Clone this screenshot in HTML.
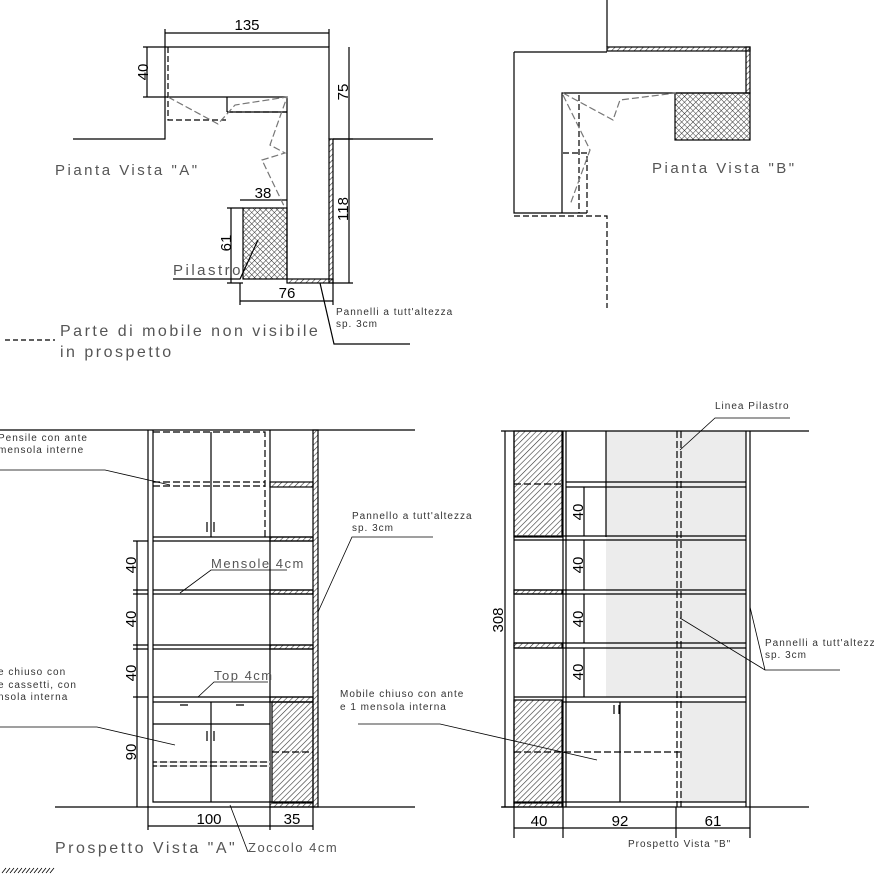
<!DOCTYPE html>
<html><head><meta charset="utf-8"><style>
body{margin:0;background:#fff}
svg{display:block}
text{font-family:"Liberation Sans",sans-serif;fill:#444}
.b{font-size:15px;fill:#000}
.s{font-size:10px;letter-spacing:1px;fill:#333}
.t{font-size:15px;letter-spacing:2.5px;fill:#555}
</style></head><body>
<svg width="874" height="874" viewBox="0 0 874 874" xmlns="http://www.w3.org/2000/svg">
<defs>
<pattern id="h" width="4" height="4" patternUnits="userSpaceOnUse" patternTransform="rotate(45)"><line x1="0" y1="0" x2="0" y2="4" stroke="#333" stroke-width="1.2"/></pattern>
<pattern id="x" width="4" height="4" patternUnits="userSpaceOnUse" patternTransform="rotate(45)"><path d="M0 0V4M0 0H4" stroke="#333" stroke-width="1"/></pattern>
</defs>
<g fill="none" stroke="#000" stroke-width="1.2">
<!-- TOP LEFT -->
<path d="M165 33H329M165 29V47M329 29V47"/>
<path d="M73 139H165V47H329V139M333 139H433"/>
<path d="M165 97H287V279"/>
<rect x="329" y="139" width="4" height="144" fill="url(#h)"/>
<rect x="287" y="279" width="46" height="4" fill="url(#h)"/>
<rect x="243" y="208" width="44" height="71" fill="url(#x)"/>
<path d="M147 47V97M143 47H165M143 97H165M349 47V283M333 139H353M333 283H353"/>
<path d="M240 200H287M231 208V283M227 208H243M227 283H243M240 301H333M240 283V305M333 283V305"/>
<path d="M227 112V97M227 112H287" />
<path d="M168 47V120H226M227 112H287" stroke-dasharray="6 3"/>
<path d="M168 97L218 124L235 105L287 97L270 145L285 153L262 160L285 208" stroke="#777" stroke-dasharray="7 3"/>
<path d="M173 279H240L258 240M320 283L334 344H410"/>
<path d="M5 340H55" stroke-dasharray="5 3"/>
<!-- TOP RIGHT -->
<path d="M607 0V47M514 52H607M514 52V213H587M750 93H562V213"/>
<rect x="607" y="47" width="143" height="4" fill="url(#h)"/>
<rect x="746" y="47" width="4" height="46" fill="url(#h)"/>
<rect x="675" y="93" width="75" height="47" fill="url(#x)"/>
<path d="M514 216H607V308M579 95V213M563 153H587V213" stroke-dasharray="6 3"/>
<path d="M563 93L613 120L620 100L676 93M563 95L590 150L570 205" stroke="#777" stroke-dasharray="7 3"/>
<!-- BOTTOM LEFT -->
<path d="M0 430H415M55 807H415"/>
<path d="M148 430V807M153 430V802H313M270 430V802"/>
<path d="M153 537H313M153 541H313M153 590H313M153 594H313M153 645H313M153 649H313M153 697H313M153 702H313"/>
<rect x="313" y="430" width="5" height="377" fill="url(#h)"/>
<rect x="270" y="482" width="43" height="5" fill="url(#h)"/>
<rect x="270" y="537" width="43" height="4" fill="url(#h)"/>
<rect x="270" y="590" width="43" height="4" fill="url(#h)"/>
<rect x="270" y="645" width="43" height="4" fill="url(#h)"/>
<rect x="270" y="697" width="43" height="5" fill="url(#h)"/>
<rect x="272" y="702" width="41" height="101" fill="url(#h)"/>
<rect x="270" y="802" width="43" height="5" fill="url(#h)"/>
<path d="M153 432H265V537M153 482H265M153 486H265M272 752H313" stroke-dasharray="7 3"/>
<path d="M211 432V537M211 702V802M153 724H270M153 762H270M153 766H270" />
<path d="M153 762H270M153 766H270" stroke="#fff" stroke-width="1.3" stroke-dasharray="3 7" stroke-dashoffset="-4"/>
<path d="M207 522V532M214 522V532M207 731V741M214 731V741M180 705H188M236 705H244"/>
<path d="M137 541V807M133 541H148M133 590H148M133 594H148M133 645H148M133 649H148M133 697H148"/>
<path d="M148 826H313M148 807V830M270 807V830M313 807V830"/>
<path d="M230 805L248 852M287 570H211L180 593M268 682H214L198 697M0 470H105L170 485M0 727H97L175 745M433 537H352L318 612M358 724H440L597 760" stroke-width="0.8"/>
<path d="M2 873L6 868M6 873L10 868M10 873L14 868M14 873L18 868M18 873L22 868M22 873L26 868M26 873L30 868M30 873L34 868M34 873L38 868M38 873L42 868M42 873L46 868M46 873L50 868M50 873L54 868" stroke-width="0.8"/>
<!-- BOTTOM RIGHT -->
<rect x="606" y="431" width="140" height="266" fill="#ececec" stroke="none"/>
<rect x="680" y="702" width="66" height="100" fill="#ececec" stroke="none"/>
<path d="M514 431H809M502 807H809M514 431V807M563 431V807M566 431V807M606 431V537M746 431V807M750 431V807"/>
<path d="M566 482H746M566 487H746M514 536H746M514 540H746M514 590H746M514 594H746M514 643H746M514 648H746M514 697H746M563 702H746M563 802H746"/>
<rect x="514" y="431" width="48" height="106" fill="url(#h)"/>
<rect x="514" y="590" width="48" height="4" fill="url(#h)"/>
<rect x="514" y="643" width="48" height="5" fill="url(#h)"/>
<rect x="514" y="700" width="48" height="103" fill="url(#h)"/>
<rect x="514" y="802" width="48" height="5" fill="url(#h)"/>
<path d="M677 431V807M681 431V807M514 484H562M514 752H680" stroke-dasharray="7 3"/>
<path d="M620 702V802M614 705V714M619 705V714"/>
<path d="M584 487V536M584 540V590M584 594V643M584 648V697"/>
<path d="M505 431V807M501 431H514M501 807H514"/>
<path d="M514 828H750M514 807V838M563 807V838M676 807V838M750 807V838"/>
<path d="M790 418H715L680 450M840 670H765L680 618M765 670L750 607" stroke-width="0.8"/>
</g>
<g>
<text class="b" x="247" y="30" text-anchor="middle">135</text>
<text class="b" transform="translate(148,72) rotate(-90)" text-anchor="middle">40</text>
<text class="b" transform="translate(348,92) rotate(-90)" text-anchor="middle">75</text>
<text class="b" transform="translate(348,209) rotate(-90)" text-anchor="middle">118</text>
<text class="b" x="263" y="198" text-anchor="middle">38</text>
<text class="b" transform="translate(231,243) rotate(-90)" text-anchor="middle">61</text>
<text class="b" x="287" y="298" text-anchor="middle">76</text>
<text class="t" x="55" y="175">Pianta Vista "A"</text>
<text class="t" x="173" y="275">Pilastro</text>
<text class="s" x="336" y="315">Pannelli a tutt'altezza</text>
<text class="s" x="336" y="327">sp. 3cm</text>
<text class="t" x="60" y="336" style="font-size:16px">Parte di mobile non visibile</text>
<text class="t" x="60" y="357" style="font-size:16px">in prospetto</text>
<text class="t" x="652" y="173">Pianta Vista "B"</text>
<text class="s" x="-2" y="441">Pensile con ante</text>
<text class="s" x="-2" y="453">mensola interne</text>
<text class="s" x="-2" y="675">e chiuso con</text>
<text class="s" x="-2" y="688">e cassetti, con</text>
<text class="s" x="-2" y="700">nsola interna</text>
<text class="t" x="211" y="568" style="font-size:13px;letter-spacing:1.5px">Mensole 4cm</text>
<text class="t" x="214" y="680" style="font-size:13px;letter-spacing:1.5px">Top 4cm</text>
<text class="s" x="352" y="519">Pannello a tutt'altezza</text>
<text class="s" x="352" y="531">sp. 3cm</text>
<text class="s" x="340" y="697">Mobile chiuso con ante</text>
<text class="s" x="340" y="710">e 1 mensola interna</text>
<text class="b" transform="translate(136,565) rotate(-90)" text-anchor="middle">40</text>
<text class="b" transform="translate(136,619) rotate(-90)" text-anchor="middle">40</text>
<text class="b" transform="translate(136,673) rotate(-90)" text-anchor="middle">40</text>
<text class="b" transform="translate(136,752) rotate(-90)" text-anchor="middle">90</text>
<text class="b" x="209" y="824" text-anchor="middle">100</text>
<text class="b" x="292" y="824" text-anchor="middle">35</text>
<text class="t" x="55" y="853" style="font-size:16px">Prospetto Vista "A"</text>
<text class="t" x="248" y="852" style="font-size:13px;letter-spacing:1.5px">Zoccolo 4cm</text>
<text class="s" x="715" y="409">Linea Pilastro</text>
<text class="s" x="765" y="646">Pannelli a tutt'altezza</text>
<text class="s" x="765" y="658">sp. 3cm</text>
<text class="b" transform="translate(583,512) rotate(-90)" text-anchor="middle">40</text>
<text class="b" transform="translate(583,565) rotate(-90)" text-anchor="middle">40</text>
<text class="b" transform="translate(583,619) rotate(-90)" text-anchor="middle">40</text>
<text class="b" transform="translate(583,672) rotate(-90)" text-anchor="middle">40</text>
<text class="b" transform="translate(503,620) rotate(-90)" text-anchor="middle">308</text>
<text class="b" x="539" y="826" text-anchor="middle">40</text>
<text class="b" x="620" y="826" text-anchor="middle">92</text>
<text class="b" x="713" y="826" text-anchor="middle">61</text>
<text class="s" x="628" y="847">Prospetto Vista "B"</text>
</g>
</svg>
</body></html>
